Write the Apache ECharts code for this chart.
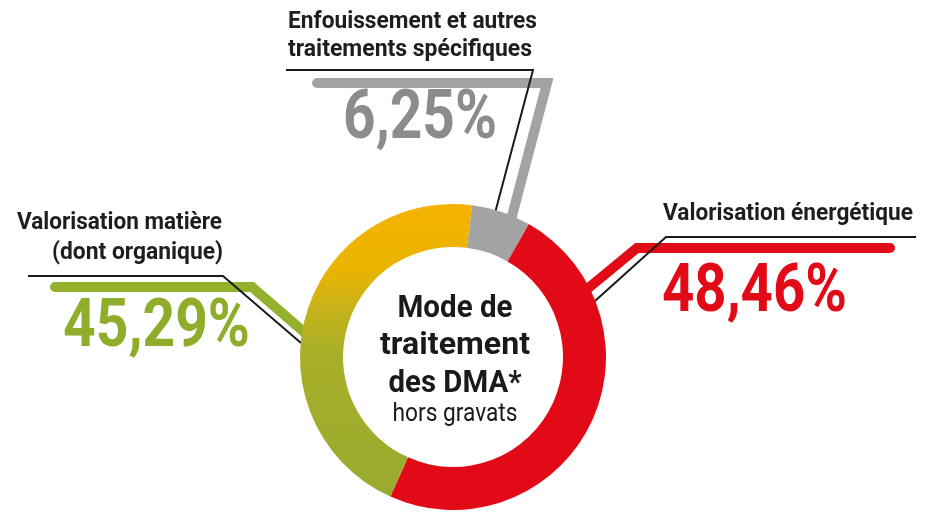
<!DOCTYPE html>
<html>
<head>
<meta charset="utf-8">
<script src="https://cdn.jsdelivr.net/npm/echarts@6/dist/echarts.min.js"></script>
<style>
  html, body { margin: 0; padding: 0; background: #fff; }
  #chart { width: 934px; height: 513px; }
</style>
</head>
<body>
<div id="chart"></div>
<script>
// data
const categories = ['Enfouissement et autres traitements spécifiques', 'Valorisation énergétique', 'Valorisation matière (dont organique)'];
const values = [6.25, 48.46, 45.29];
const valueLabels = ['6,25%', '48,46%', '45,29%'];
const nameLines = [
  ['Enfouissement et autres', 'traitements spécifiques'],
  ['Valorisation énergétique'],
  ['Valorisation matière', '(dont organique)']
];
const centerLines = ['Mode de', 'traitement', 'des DMA*', 'hors gravats'];

const colors = ['#a3a3a3', '#e30a17', {
  type: 'linear', x: 0, y: 0, x2: 0, y2: 1,
  colorStops: [
    { offset: 0, color: '#f4b300' },
    { offset: 0.22, color: '#eab400' },
    { offset: 0.36, color: '#c6b31a' },
    { offset: 0.5, color: '#a9af27' },
    { offset: 1, color: '#98aa30' }
  ]
}];
const textColors = ['#8c8c8c', '#e30a17', '#8fad2b'];
const lineColors = ['#a3a3a3', '#e30a17', '#93b12c'];

const cx = 453, cy = 357;

// layout of the labels (left/right edge, vertical middle, target width)
const nameLayout = [
  [{ x: 288, y: 22, w: 249, align: 'left' }, { x: 288, y: 50, w: 244, align: 'left' }],
  [{ x: 913, y: 214, w: 250, align: 'right' }],
  [{ x: 222, y: 223, w: 205, align: 'right' }, { x: 223, y: 253, w: 171, align: 'right' }]
];
const valueLayout = [
  { x: 343, y: 121, w: 154, size: 69 },
  { x: 662, y: 294, w: 185, size: 67 },
  { x: 63, y: 329, w: 187, size: 66 }
];
const thickLines = [
  [[317, 83], [547, 83], [512, 216]],
  [[890, 248], [637, 248], [586, 290]],
  [[55, 287], [252, 287], [304, 332]]
];
const thinLines = [
  [[286, 70], [533, 70], [495, 213]],
  [[916, 237], [666, 237], [595, 301]],
  [[28, 276], [223, 276], [301, 343]]
];
const centerLayout = [
  { y: 309, w: 115, size: 32, weight: 'bold' },
  { y: 346, w: 150, size: 32, weight: 'bold' },
  { y: 384, w: 133, size: 32, weight: 'bold' },
  { y: 415, w: 125, size: 25, weight: 'normal' }
];

const measureCtx = document.createElement('canvas').getContext('2d');
function fitScale(text, size, weight, w) {
  measureCtx.font = weight + ' ' + size + 'px Roboto';
  return w / measureCtx.measureText(text).width;
}
function textEl(text, x, y, w, size, weight, color, align) {
  return {
    type: 'text', x: x, y: y, z: 10,
    scaleX: fitScale(text, size, weight, w),
    style: {
      text: text, x: 0, y: 0, fill: color, align: align, verticalAlign: 'middle',
      fontFamily: 'Roboto', fontSize: size, fontWeight: weight
    }
  };
}

const graphics = [];
categories.forEach(function (c, i) {
  graphics.push({
    type: 'polyline', z: 0,
    shape: { points: thickLines[i] },
    style: { stroke: lineColors[i], lineWidth: 10, lineCap: 'round', lineJoin: 'miter', fill: null }
  });
  graphics.push({
    type: 'polyline', z: 1,
    shape: { points: thinLines[i] },
    style: { stroke: '#1a1a1a', lineWidth: 2, fill: null }
  });
  nameLines[i].forEach(function (t, k) {
    const l = nameLayout[i][k];
    graphics.push(textEl(t, l.x, l.y, l.w, 24, 'bold', '#1e1e1e', l.align));
  });
  const v = valueLayout[i];
  graphics.push(textEl(valueLabels[i], v.x, v.y, v.w, v.size, 'bold', textColors[i], 'left'));
});
centerLines.forEach(function (t, k) {
  const l = centerLayout[k];
  graphics.push(textEl(t, cx + 2, l.y, l.w, l.size, l.weight, '#1a1a1a', 'center'));
});

const chart = echarts.init(document.getElementById('chart'));
chart.setOption({
  animation: false,
  graphic: graphics,
  series: [{
    type: 'pie',
    z: 5,
    center: [cx, cy],
    radius: [110, 153],
    startAngle: 82.8,
    clockwise: true,
    silent: true,
    label: { show: false },
    labelLine: { show: false },
    itemStyle: { borderWidth: 0 },
    data: categories.map(function (c, i) {
      return { name: c, value: values[i], itemStyle: { color: colors[i] } };
    })
  }]
});
</script>
</body>
</html>
